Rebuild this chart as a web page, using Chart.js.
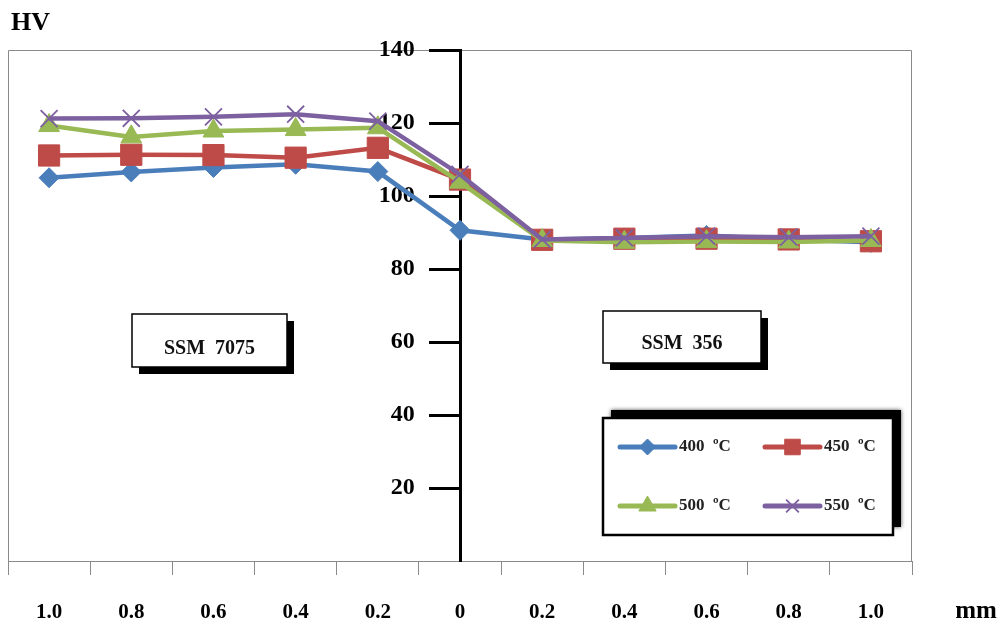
<!DOCTYPE html>
<html><head><meta charset="utf-8">
<script src="https://cdn.jsdelivr.net/npm/chart.js@4.4.1/dist/chart.umd.min.js"></script>
<style>html,body{margin:0;padding:0;background:#fff;overflow:hidden}canvas{display:block;margin-left:-8px}</style>
</head><body>
<canvas id="c" width="1008" height="626"></canvas>
<script>
// ---- data ----
const categories = ['1.0','0.8','0.6','0.4','0.2','0','0.2','0.4','0.6','0.8','1.0'];
const hv400 = [105.0, 106.6, 107.8, 108.7, 106.7, 90.6, 88.1, 88.5, 89.2, 88.1, 87.3];
const hv450 = [111.1, 111.3, 111.2, 110.5, 113.2, 104.5, 88.0, 88.3, 88.3, 88.1, 87.6];
const hv500 = [119.3, 116.2, 117.8, 118.2, 118.7, 103.8, 87.8, 87.3, 87.5, 87.4, 87.8];
const hv550 = [121.2, 121.3, 121.7, 122.4, 120.5, 105.9, 88.1, 88.5, 89.0, 88.7, 89.0];
const seriesLabels = ['400  ºC', '450  ºC', '500  ºC', '550  ºC'];
const yMin = 0, yMax = 140, yStep = 20;
const yTitle = 'HV';
const xUnit = 'mm';
const leftMaterial = 'SSM  7075';
const rightMaterial = 'SSM  356';

const FONT = "'Liberation Serif', 'Times New Roman', serif";
const SHIFT = 8; // canvas is shifted left by this many px on the page

const decor = {
  id: 'decor',
  beforeDraw(chart) {
    const {ctx, chartArea: a} = chart;
    ctx.save();
    ctx.fillStyle = '#fff';
    ctx.fillRect(0, 0, chart.width, chart.height);
    ctx.strokeStyle = '#8a8a8a';
    ctx.lineWidth = 1;
    ctx.beginPath();
    ctx.moveTo(a.left + 0.5, a.bottom);
    ctx.lineTo(a.left + 0.5, a.top + 0.5);
    ctx.lineTo(a.right - 0.5, a.top + 0.5);
    ctx.lineTo(a.right - 0.5, a.bottom);
    ctx.stroke();
    ctx.restore();
  },
  afterDraw(chart) {
    const {ctx} = chart;
    ctx.save();
    ctx.translate(SHIFT, 0);
    ctx.fillStyle = '#000';
    ctx.textBaseline = 'middle';
    ctx.font = 'bold 26px ' + FONT;
    ctx.textAlign = 'left';
    ctx.fillText(yTitle, 11, 23);
    ctx.font = 'bold 25px ' + FONT;
    ctx.textAlign = 'center';
    ctx.fillText(xUnit, 976, 612);

    // material boxes
    function matBox(x, y, w, h, text, ty) {
      ctx.fillStyle = '#000';
      ctx.fillRect(x + 7, y + 7, w, h);
      ctx.fillStyle = '#fff';
      ctx.fillRect(x, y, w, h);
      ctx.strokeStyle = '#000';
      ctx.lineWidth = 1.5;
      ctx.strokeRect(x, y, w, h);
      ctx.fillStyle = '#111';
      ctx.font = 'bold 20px ' + FONT;
      ctx.textAlign = 'center';
      ctx.textBaseline = 'middle';
      ctx.fillText(text, x + w / 2, ty);
    }
    matBox(132, 314, 155, 53, leftMaterial, 349);
    matBox(603, 311, 158, 52, rightMaterial, 344);

    // legend
    const lx = 603, ly = 418, lw = 290, lh = 117;
    ctx.save();
    ctx.shadowColor = 'rgba(0,0,0,0.7)';
    ctx.shadowBlur = 4;
    ctx.fillStyle = '#000';
    ctx.fillRect(lx + 8, ly - 8, lw, lh);
    ctx.restore();
    ctx.fillStyle = '#fff';
    ctx.fillRect(lx, ly, lw, lh);
    ctx.strokeStyle = '#000';
    ctx.lineWidth = 2.5;
    ctx.strokeRect(lx, ly, lw, lh);
    const cols = [620, 765], rows = [447, 506];
    const legRadius = [8, 11, 10, 9];
    chart.data.datasets.forEach((ds, i) => {
      const x0 = cols[i % 2], y0 = rows[Math.floor(i / 2)];
      ctx.strokeStyle = ds.borderColor;
      ctx.lineWidth = 5;
      ctx.lineCap = 'round';
      ctx.beginPath();
      ctx.moveTo(x0, y0);
      ctx.lineTo(x0 + 55, y0);
      ctx.stroke();
      ctx.lineCap = 'butt';
      ctx.fillStyle = ds.pointBackgroundColor;
      ctx.strokeStyle = ds.pointBorderColor;
      ctx.lineWidth = ds.pointBorderWidth;
      Chart.helpers.drawPoint(ctx, {pointStyle: ds.pointStyle, radius: legRadius[i], rotation: 0, borderWidth: ds.pointBorderWidth}, x0 + 27.5, y0);
      ctx.fillStyle = '#222';
      ctx.font = 'bold 17px ' + FONT;
      ctx.textAlign = 'left';
      ctx.textBaseline = 'middle';
      ctx.fillText(ds.label, x0 + 59, y0);
    });
    ctx.restore();
  }
};

const makeDs = (label, data, color, style, radius, bw, order) => ({
  label, data,
  borderColor: color, backgroundColor: color,
  pointBackgroundColor: color, pointBorderColor: color,
  pointStyle: style, pointRadius: radius, pointBorderWidth: bw,
  borderWidth: 4.5, tension: 0, fill: false, order
});

new Chart(document.getElementById('c'), {
  type: 'line',
  data: {
    labels: categories,
    datasets: [
      makeDs(seriesLabels[0], hv400, '#4A7EBB', 'rectRot', 10, 1, 3),
      makeDs(seriesLabels[1], hv450, '#BE4B48', 'rect', 15, 1, 2),
      makeDs(seriesLabels[2], hv500, '#98B954', 'triangle', 12, 1, 1),
      makeDs(seriesLabels[3], hv550, '#7D60A0', 'crossRot', 12, 1.8, 0)
    ]
  },
  options: {
    responsive: false,
    animation: false,
    devicePixelRatio: 1,
    layout: { padding: { left: 8, right: 88, top: 50, bottom: 0 } },
    plugins: { legend: { display: false }, tooltip: { enabled: false } },
    scales: {
      x: {
        type: 'category',
        offset: true,
        grid: { offset: true, drawOnChartArea: false, tickLength: 14, color: '#8a8a8a', lineWidth: 1 },
        border: { color: '#8a8a8a', width: 1 },
        ticks: { color: '#000', font: { family: FONT, size: 21, weight: 'bold' }, padding: 25, maxRotation: 0, autoSkip: false },
        afterFit(s) { s.height = 65; s.paddingLeft = 0; s.paddingRight = 0; }
      },
      y: {
        position: { x: 5 },
        min: yMin, max: yMax, z: 1,
        grid: { drawOnChartArea: false, tickLength: 30, tickWidth: 3,
                tickColor: (c) => (c.tick && c.tick.value === 0 ? 'rgba(0,0,0,0)' : '#000') },
        border: { color: '#000', width: 3 },
        ticks: { display: false, stepSize: yStep },
        afterFit(s) { s.width = 0; }
      },
      yLabels: {
        type: 'linear',
        axis: 'y',
        position: { x: 4.45 },
        min: yMin, max: yMax,
        grid: { display: false, drawTicks: false },
        border: { display: false },
        ticks: { stepSize: yStep, color: '#000', font: { family: FONT, size: 24, weight: 'bold' },
                 callback: (v) => (v === 0 ? '' : v) },
        afterFit(s) { s.width = 0; }
      }
    }
  },
  plugins: [decor]
});
</script>
</body></html>
